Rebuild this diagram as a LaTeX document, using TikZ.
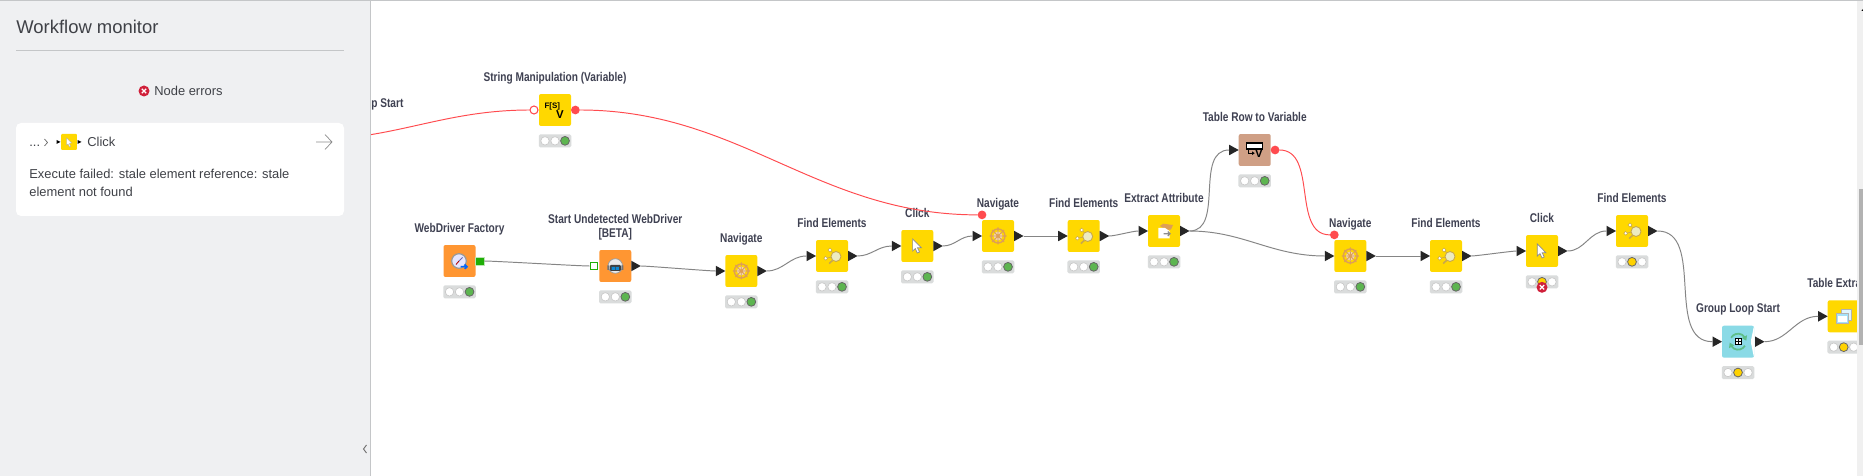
\documentclass[tikz,border=0pt]{standalone}
\usepackage{fontspec}
\usepackage{tikz}
\usetikzlibrary{positioning,shapes.geometric}
\setmainfont{Liberation Sans}
\newfontfamily\titlefont[FakeStretch=0.8]{Liberation Sans}

\definecolor{panelgray}{HTML}{EFF0F2}
\definecolor{rulegray}{HTML}{C4C6C8}
\definecolor{inktext}{HTML}{3F4147}
\definecolor{titletext}{HTML}{3F4152}
\definecolor{manipyellow}{HTML}{FFD800}
\definecolor{sourceorange}{HTML}{FF9632}
\definecolor{flowbrown}{HTML}{CF9F85}
\definecolor{loopteal}{HTML}{8ADAE6}
\definecolor{wiregray}{HTML}{858585}
\definecolor{flowred}{HTML}{FF4B4F}
\definecolor{portgreen}{HTML}{1FAE06}
\definecolor{lampbar}{HTML}{DADCDC}
\definecolor{lampgreen}{HTML}{5DB550}
\definecolor{lampyellow}{HTML}{FFD200}
\definecolor{errorred}{HTML}{D0203A}
\definecolor{wheeltan}{HTML}{DE9F55}
\definecolor{lensborder}{HTML}{C8A84B}
\definecolor{lensfill}{HTML}{EDEBC0}
\definecolor{arcgreen}{HTML}{5FBF8A}

\begin{document}
\begin{tikzpicture}[x=0.02cm, y=-0.02cm,
    nodebox/.style ={rectangle, rounded corners=0.04cm, minimum size=0.64cm, inner sep=0pt, outer sep=0pt},
    manip/.style ={nodebox, fill=manipyellow},
    source/.style ={nodebox, fill=sourceorange},
    flowbox/.style ={nodebox, fill=flowbrown},
    loopbox/.style ={nodebox, fill=loopteal, path picture={
        \fill[white] (path picture bounding box.north east) -- ++(-3.3,16) -- (path picture bounding box.south east) -- ++(2,0) -- ++(0,-34) -- cycle;}},
    nodetitle/.style ={font=\titlefont\bfseries\fontsize{7.2}{8}\selectfont, text=titletext, inner sep=0pt, align=center, text depth=0pt, label distance=0.25cm},
    inport/.style ={isosceles triangle, isosceles triangle stretches, fill=black!85, minimum width=0.21cm, minimum height=0.19cm, inner sep=0pt, outer sep=0pt},
    outport/.style ={inport},
    tablein/.style ={rectangle, draw=portgreen, fill=white, line width=0.7pt, minimum size=0.15cm, inner sep=0pt},
    tableout/.style ={rectangle, fill=portgreen, draw=white!70!portgreen, line width=0.2pt, minimum size=0.17cm, inner sep=0pt, outer sep=0pt},
    flowport/.style ={circle, fill=flowred, minimum size=0.175cm, inner sep=0pt, outer sep=0pt},
    flowin/.style ={circle, draw=flowred, fill=white, line width=0.6pt, minimum size=0.16cm, inner sep=0pt, outer sep=0pt},
    wire/.style ={draw=wiregray, line width=0.55pt},
    flowwire/.style ={draw=flowred, line width=0.55pt},
    lamp/.style ={draw=black!22, fill=white, line width=0.35pt},
    lampon/.style ={draw=black!60, line width=0.45pt},
    statusbar/.style ={rectangle, rounded corners=0.03cm, fill=lampbar, minimum width=0.65cm, minimum height=0.26cm, inner sep=0pt},
    statusdone/.style ={statusbar, path picture={
        \draw[lamp, shift={(path picture bounding box.center)}] (-10,0) circle[radius=4.2] (0,0) circle[radius=4.2];
        \draw[lampon, fill=lampgreen, shift={(path picture bounding box.center)}] (10,0) circle[radius=4.4];}},
    statusidle/.style ={statusbar, path picture={
        \draw[lamp, shift={(path picture bounding box.center)}] (-10,0) circle[radius=4.2] (10,0) circle[radius=4.2];
        \draw[lampon, fill=lampyellow, shift={(path picture bounding box.center)}] (0,0) circle[radius=4.4];}},
    errorbadge/.style ={circle, fill=errorred, minimum size=0.22cm, inner sep=0pt, path picture={
        \draw[white, line width=0.7pt, shift={(path picture bounding box.center)}] (-2.2,-2.2) -- (2.2,2.2) (-2.2,2.2) -- (2.2,-2.2);}},
    paneltext/.style ={font=\fontsize{7.35}{10}\selectfont, text=inktext, inner sep=0pt, anchor=west},
    wheelicon/.pic ={
        \draw[wheeltan, line width=0.6pt] (-8.5,0) -- (8.5,0) (0,-8.5) -- (0,8.5) (-6,-6) -- (6,6) (-6,6) -- (6,-6);
        \draw[wheeltan, line width=0.8pt] (0,0) circle[radius=7];
        \fill[wheeltan!45] (0,0) circle[radius=4.4];
        \draw[wheeltan, line width=0.5pt] (-4,0) -- (4,0) (0,-4) -- (0,4) (-3,-3) -- (3,3) (-3,3) -- (3,-3);
        \fill[wheeltan] (0,0) circle[radius=1.8];},
    findicon/.pic ={
        \draw[lensborder, line width=0.35pt] (-2,-6) -- (3,-1) (-6.3,2.3) -- (0,1);
        \draw[lensborder, line width=0.9pt] (1,4) -- (-2.8,7.5);
        \draw[lensborder, fill=lensfill, line width=0.5pt] (4,0.5) circle[radius=5];
        \draw[lensborder, fill=white, line width=0.3pt] (-2,-6) circle[radius=1.9] (-6.3,2.3) circle[radius=1.9];},
    clickicon/.pic ={
        \draw[black!45, fill=white, line width=0.4pt] (-4.7,-7) -- (-4.7,5) -- (-2,2.6) -- (0,7) -- (2.2,6) -- (0.2,1.8) -- (4,1.8) -- cycle;},
    extracticon/.pic ={
        \fill[wheeltan] (-4,-5) -- (-1,-7.3) -- (9,-6) -- (7,-1.5) -- (2,-1) -- cycle;
        \fill[white] (-5.7,-3) -- (1,-3) -- (5.5,0) -- (5.5,7.3) -- (-5.7,7.3) -- cycle;
        \draw[black!45, line width=0.7pt] (-0.5,2.8) -- (6,2.8) (3.8,0.6) -- (6,2.8) -- (3.8,5);},
    compassicon/.pic ={
        \draw[black!40, fill=blue!10!white, line width=0.7pt] (-0.5,0) circle[radius=7.3];
        \draw[red!70!black, line width=0.5pt] (-3.5,3.5) -- (-0.5,0);
        \draw[blue!50!black!60, line width=0.5pt] (-0.5,0) -- (3,-3.5);
        \draw[blue!60!cyan, line width=0.9pt] (1,5.7) -- (7.5,5.7) (5.2,3.5) -- (7.5,5.7) -- (5.2,7.9);},
    roboticon/.pic ={
        \draw[black!40, fill=black!8, line width=0.4pt] (0,0) circle[radius=7.3];
        \fill[black!55] (-8,-0.5) rectangle (-6,4) (6,-0.5) rectangle (8,4);
        \fill[black!75, rounded corners=0.02cm] (-5.5,-1) rectangle (5.5,5);
        \fill[cyan!70!blue] (-3.6,1) rectangle (-0.4,3.8) (0.4,1) rectangle (3.6,3.8);},
    varicon/.pic ={
        \draw[black, fill=white, line width=0.6pt] (-8,-7.7) rectangle (8,-1);
        \fill[black] (-8,-7.7) rectangle (8,-6.4);
        \draw[black, line width=0.5pt] (-6,0.5) -- (-6,3.2) -- (-2.5,3.2);
        \fill[black] (-2.5,1.5) -- (0,3.2) -- (-2.5,4.9) -- cycle;},
    loopicon/.pic ={
        \draw[arcgreen, line width=1pt] (-6.9,-4) arc[start angle=210, end angle=330, radius=8];
        \fill[arcgreen] (9,-6.5) -- (8.3,-1) -- (3.8,-3.6) -- cycle;
        \draw[arcgreen, line width=1pt] (6.9,4) arc[start angle=30, end angle=150, radius=8];
        \fill[arcgreen] (-9,6.5) -- (-8.3,1) -- (-3.8,3.6) -- cycle;
        \draw[black, fill=white, line width=0.45pt] (-3,-3) rectangle (3,3) (-3,0) -- (3,0) (0,-3) -- (0,3);},
    framesicon/.pic ={
        \draw[black!30, fill=cyan!12, line width=0.3pt] (-2,-7.3) rectangle (8,3.7);
        \draw[black!30, fill=cyan!35, line width=0.3pt] (-7,-3) rectangle (4.7,7);
        \fill[white] (-6,0) rectangle (3.7,6);}]

   \useasboundingbox (0,0) rectangle (1863,476);
   \fill[white] (0,0) rectangle (1863,476);

   \node[nodetitle, anchor=west] (looptitle) at (371,103) {p Start};
   \coordinate (loopout) at (307,140);

   \node[manip, label={[nodetitle]above:String Manipulation (Variable)}] (str) at (555,110) {};
   \node[flowin, left=0.02cm of str] (strin) {};
   \node[flowport, right=0pt of str] (strout) {};
   \node[statusdone, below=0.16cm of str] (strlamp) {};
   \node[font=\bfseries\fontsize{4.5}{6}\selectfont, inner sep=0pt] (strf) at (552.3,106) {F[S]};
   \node[font=\bfseries\fontsize{6.5}{8}\selectfont, inner sep=0pt] (strv) at (560,115) {V};

   \node[source, label={[nodetitle]above:WebDriver Factory}] (wdf) at (459.5,261) {};
   \node[tableout, right=0pt of wdf] (wdfout) {};
   \node[statusdone, below=0.16cm of wdf] (wdflamp) {};
   \pic at (wdf) {compassicon};

   \node[source, label={[nodetitle]above:Start Undetected WebDriver\\{}[BETA]}] (sud) at (615.3,266) {};
   \node[tablein, left=0.02cm of sud] (sudin) {};
   \node[outport, right=0pt of sud] (sudout) {};
   \node[statusdone, below=0.16cm of sud] (sudlamp) {};
   \pic at (sud) {roboticon};

   \node[manip, label={[nodetitle]above:Navigate}] (nav1) at (741.3,271) {};
   \node[inport, left=0pt of nav1] (nav1in) {};
   \node[outport, right=0pt of nav1] (nav1out) {};
   \node[statusdone, below=0.16cm of nav1] (nav1lamp) {};
   \pic at (nav1) {wheelicon};

   \node[manip, label={[nodetitle]above:Find Elements}] (find1) at (832,256) {};
   \node[inport, left=0pt of find1] (find1in) {};
   \node[outport, right=0pt of find1] (find1out) {};
   \node[statusdone, below=0.16cm of find1] (find1lamp) {};
   \pic at (find1) {findicon};

   \node[manip, label={[nodetitle]above:Click}] (click1) at (917.3,246) {};
   \node[inport, left=0pt of click1] (click1in) {};
   \node[outport, right=0pt of click1] (click1out) {};
   \node[statusdone, below=0.16cm of click1] (click1lamp) {};
   \pic at (click1) {clickicon};

   \node[manip, label={[nodetitle]above:Navigate}] (nav2) at (998,236) {};
   \node[inport, left=0pt of nav2] (nav2in) {};
   \node[outport, right=0pt of nav2] (nav2out) {};
   \node[flowport, above=0.015cm of nav2.north west] (nav2flow) {};
   \node[statusdone, below=0.16cm of nav2] (nav2lamp) {};
   \pic at (nav2) {wheelicon};

   \node[manip, label={[nodetitle]above:Find Elements}] (find2) at (1083.7,236) {};
   \node[inport, left=0pt of find2] (find2in) {};
   \node[outport, right=0pt of find2] (find2out) {};
   \node[statusdone, below=0.16cm of find2] (find2lamp) {};
   \pic at (find2) {findicon};

   \node[manip, label={[nodetitle]above:Extract Attribute}] (attr) at (1164,231) {};
   \node[inport, left=0pt of attr] (attrin) {};
   \node[outport, right=0pt of attr] (attrout) {};
   \node[statusdone, below=0.16cm of attr] (attrlamp) {};
   \pic at (attr) {extracticon};

   \node[flowbox, label={[nodetitle]above:Table Row to Variable}] (row) at (1254.7,150) {};
   \node[inport, left=0pt of row] (rowin) {};
   \node[flowport, right=0pt of row] (rowout) {};
   \node[statusdone, below=0.16cm of row] (rowlamp) {};
   \pic at (row) {varicon};
   \node[font=\bfseries\fontsize{6.5}{8}\selectfont, inner sep=0pt] (rowv) at (1259,153.3) {V};

   \node[manip, label={[nodetitle]above:Navigate}] (nav3) at (1350.3,256) {};
   \node[inport, left=0pt of nav3] (nav3in) {};
   \node[outport, right=0pt of nav3] (nav3out) {};
   \node[flowport, above=0.015cm of nav3.north west] (nav3flow) {};
   \node[statusdone, below=0.16cm of nav3] (nav3lamp) {};
   \pic at (nav3) {wheelicon};

   \node[manip, label={[nodetitle]above:Find Elements}] (find3) at (1446,256) {};
   \node[inport, left=0pt of find3] (find3in) {};
   \node[outport, right=0pt of find3] (find3out) {};
   \node[statusdone, below=0.16cm of find3] (find3lamp) {};
   \pic at (find3) {findicon};

   \node[manip, label={[nodetitle]above:Click}] (click2) at (1542,251) {};
   \node[inport, left=0pt of click2] (click2in) {};
   \node[outport, right=0pt of click2] (click2out) {};
   \node[statusidle, below=0.16cm of click2] (click2lamp) {};
   \node[errorbadge] (click2bad) at (1542,287.3) {};
   \pic at (click2) {clickicon};

   \node[manip, label={[nodetitle]above:Find Elements}] (find4) at (1632,231) {};
   \node[inport, left=0pt of find4] (find4in) {};
   \node[outport, right=0pt of find4] (find4out) {};
   \node[statusidle, below=0.16cm of find4] (find4lamp) {};
   \pic at (find4) {findicon};

   \node[loopbox, label={[nodetitle]above:Group Loop Start}] (group) at (1738,341.7) {};
   \node[inport, left=0pt of group] (groupin) {};
   \node[outport, right=0.02cm of group] (groupout) {};
   \node[statusidle, below=0.16cm of group] (grouplamp) {};
   \pic at (group) {loopicon};

   \node[manip] (tab) at (1843.7,316.3) {};
   \node[inport, left=0pt of tab] (tabin) {};
   \node[statusidle, below=0.16cm of tab] (tablamp) {};
   \node[nodetitle, anchor=west] (tabtitle) at (1807,283.3) {Table Extra};
   \pic at (tab) {framesicon};

   \draw[wire] (wdfout) to[out=0, in=180, looseness=0.25] (sudin);
   \draw[wire] (sudout.east) to[out=0, in=180, looseness=0.25] (nav1in.west);
   \draw[wire] (nav1out.east) to[out=0, in=180] (find1in.west);
   \draw[wire] (find1out.east) to[out=0, in=180] (click1in.west);
   \draw[wire] (click1out.east) to[out=0, in=180] (nav2in.west);
   \draw[wire] (nav2out.east) to (find2in.west);
   \draw[wire] (find2out.east) to[out=0, in=180, looseness=0.5] (attrin.west);
   \draw[wire] (attrout.east) to[out=0, in=180] (rowin.west);
   \draw[wire] (attrout.east) to[out=0, in=180] (nav3in.west);
   \draw[wire] (nav3out.east) to (find3in.west);
   \draw[wire] (find3out.east) to[out=0, in=180, looseness=0.25] (click2in.west);
   \draw[wire] (click2out.east) to[out=0, in=180] (find4in.west);
   \draw[wire] (find4out.east) to[out=0, in=180] (groupin.west);
   \draw[wire] (groupout.east) to[out=0, in=180] (tabin.west);
   \draw[flowwire] (loopout) to[out=0, in=180] (strin);
   \draw[flowwire] (strout) to[out=0, in=180] (nav2flow);
   \draw[flowwire] (rowout) to[out=0, in=180] (nav3flow);

   % side panel
   \fill[panelgray] (0,0) rectangle (370,476);
   \draw[rulegray, line width=0.5pt] (370.4,0) -- (370.4,476);
   \draw[rulegray, line width=0.5pt] (0,0.5) -- (1863,0.5);
   \node[paneltext, font=\fontsize{10.5}{13}\selectfont] (monitor) at (16,27) {Workflow monitor};
   \draw[rulegray, line width=0.5pt] (16,50.5) -- (344,50.5);
   \node[errorbadge] (errmark) at (144,91) {};
   \node[paneltext] (errtext) at (154,91) {Node errors};
   \fill[white, rounded corners=0.1cm] (16,123) rectangle (344,216);
   \node[paneltext, anchor=base west] (dots) at (29,146.5) {...};
   \draw[black!60, line width=0.4pt] (44.5,139) -- (47.5,142.5) -- (44.5,146);
   \node[manip, minimum size=0.32cm, rounded corners=0.02cm] (minibox) at (69,142) {};
   \fill[black] (56.5,140) -- (60.5,142) -- (56.5,144) -- cycle (77.5,140) -- (81.5,142) -- (77.5,144) -- cycle;
   \draw[black!35, fill=white, line width=0.2pt] (66.5,138) -- (66.5,145) -- (68,144) -- (69.5,147) -- (70.5,146.5) -- (69.5,143.5) -- (71.5,143) -- cycle;
   \node[paneltext] (clicktext) at (87,142) {Click};
   \draw[black!45, line width=0.4pt] (316,142) -- (332,142) (325,134.5) -- (332,142) -- (325,149.5);
   \node[paneltext] (fail1) at (29,174) {Execute failed: stale element reference: stale};
   \node[paneltext] (fail2) at (29,192) {element not found};
   \draw[black!55, line width=0.55pt] (366.5,445) -- (363.5,449) -- (366.5,453);

   % scrollbar
   \fill[black!6] (1857,1) rectangle (1863,476);
   \fill[black!30] (1859,189) rectangle (1863,345);
   \fill[black] (1861.5,11) -- (1862.3,9) -- (1863,11) -- cycle;
\end{tikzpicture}
\end{document}
